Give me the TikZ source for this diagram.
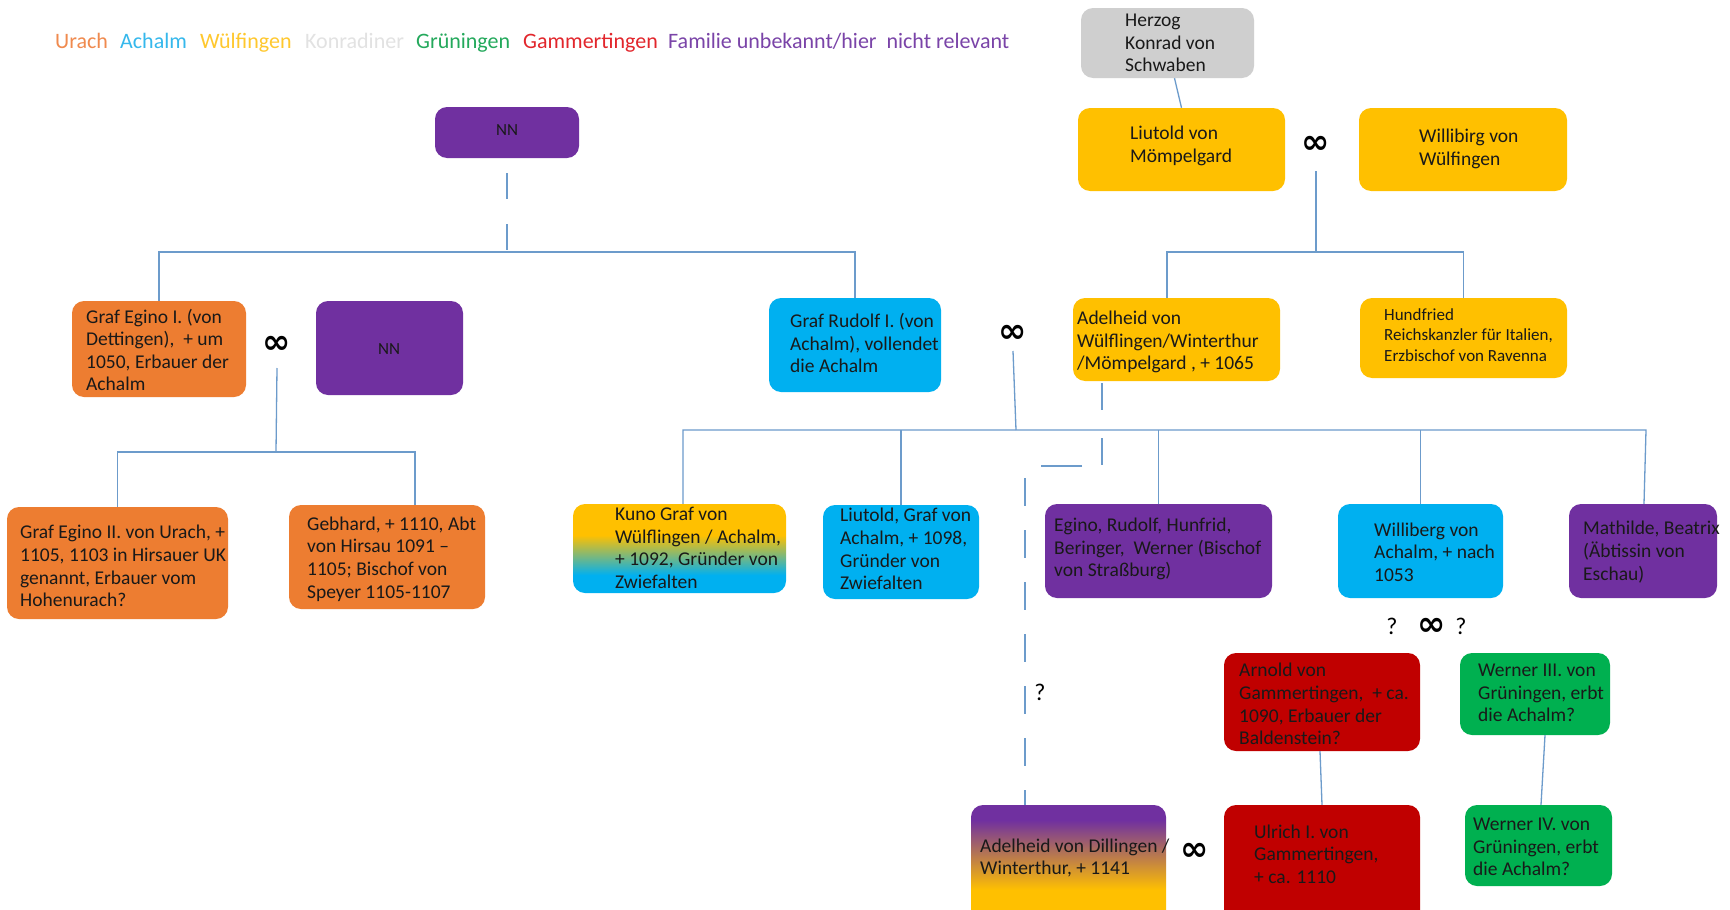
\documentclass[tikz,border=0pt]{standalone}
\usepackage{fontspec}
\setmainfont{Carlito}
\newfontfamily\djv{DejaVu Sans}
\usetikzlibrary{calc}
\definecolor{cUra}{HTML}{ED7D31}
\definecolor{cAch}{HTML}{00B0F0}
\definecolor{cWue}{HTML}{FFC000}
\definecolor{cKon}{HTML}{CFCFCF}
\definecolor{cGru}{HTML}{00B050}
\definecolor{cGam}{HTML}{C00000}
\definecolor{cPur}{HTML}{7030A0}
\definecolor{lUra}{HTML}{F08A4E}
\definecolor{lAch}{HTML}{35B8EC}
\definecolor{lWue}{HTML}{FFC82E}
\definecolor{lKon}{HTML}{E2E2E2}
\definecolor{lGru}{HTML}{24A95C}
\definecolor{lGam}{HTML}{E2262C}
\definecolor{lPur}{HTML}{7A44A8}
\definecolor{lineblue}{HTML}{6C9BCB}
\pgfdeclareverticalshading{kunosh}{100bp}{color(0bp)=(cAch); color(35bp)=(cAch); color(57.5bp)=(cWue); color(100bp)=(cWue)}
\pgfdeclareverticalshading{adelsh}{100bp}{color(0bp)=(cWue); color(41bp)=(cWue); color(69bp)=(cPur); color(100bp)=(cPur)}
\newcommand\famfont{\fontsize{19.5}{22.6}\selectfont}
\newcommand\famnode[9]{%
  \node[famb,#6,minimum width={(#4-#2)*1pt},minimum height={(#5-#3)*1pt}] (#1) at ({(#2+#4)/2},{(#3+#5)/2}) {};
  \node[famt] (#1-t) at ({#2+#7},#8) {#9};}
\tikzset{
  famb/.style={rectangle, rounded corners=12pt, inner sep=0pt, draw=none},
  famt/.style={anchor=west, align=left, inner sep=0pt, font=\famfont, text=black!90},
  conn/.style={draw=lineblue, line width=1.3pt},
  legend/.style={anchor=base west, inner sep=0pt, font=\fontsize{22}{26}\selectfont},
  marr/.style={inner sep=0pt, font=\djv\bfseries\fontsize{34}{34}\selectfont},
  qm/.style={inner sep=0pt, font=\fontsize{24}{26}\selectfont}
}
\begin{document}
\begin{tikzpicture}[x=1pt,y=-1pt]
\useasboundingbox (0,0) rectangle (1730,910);
\clip (0,0) rectangle (1730,910);
\fill[white] (0,0) rectangle (1730,910);
% legend
\node[legend,text=lUra] (lg1) at (55,48) {Urach};
\node[legend,text=lAch] (lg2) at (120,48) {Achalm};
\node[legend,text=lWue] (lg3) at (200,48) {Wülfingen};
\node[legend,text=lKon] (lg4) at (305,48) {Konradiner};
\node[legend,text=lGru] (lg5) at (416,48) {Grüningen};
\node[legend,text=lGam] (lg6) at (523,48) {Gammertingen};
\node[legend,text=lPur] (lg7) at (668,48) {Familie unbekannt/hier\ \ nicht relevant};
% boxes
\famnode{herzog}{1081}{8}{1254}{78}{fill=cKon}{44}{43}{Herzog\\Konrad von\\Schwaben}
\famnode{liutold}{1078}{108}{1285}{191}{fill=cWue}{52}{146}{Liutold von\\Mömpelgard}
\famnode{willibirg}{1359}{108}{1567}{191}{fill=cWue}{60}{149}{Willibirg von\\Wülfingen}
\renewcommand\famfont{\fontsize{17}{20.8}\selectfont}
\famnode{nna}{435}{107}{579}{158}{fill=cPur}{61}{130}{NN}
\famnode{nnb}{316}{301}{463}{395}{fill=cPur}{62}{349}{NN}
\famnode{hundfried}{1360}{298}{1567}{378}{fill=cWue}{24}{335}{Hundfried\\Reichskanzler für Italien,\\Erzbischof von Ravenna}
\renewcommand\famfont{\fontsize{19.5}{22.6}\selectfont}
\famnode{eginoa}{72}{301}{246}{397}{fill=cUra}{14}{350}{Graf Egino I. (von\\Dettingen),\ \ + um\\1050, Erbauer der\\Achalm}
\famnode{rudolf}{769}{298}{941}{392}{fill=cAch}{21}{343}{Graf Rudolf I. (von\\Achalm), vollendet\\die Achalm}
\famnode{adelheid}{1073}{298}{1280}{381}{fill=cWue}{4}{342}{Adelheid von\\Wülflingen/Winterthur\\/Mömpelgard , + 1065}
\famnode{eginob}{7}{507}{228}{619}{fill=cUra}{13}{566}{Graf Egino II. von Urach, +\\1105, 1103 in Hirsauer UK\\genannt, Erbauer vom\\Hohenurach?}
\famnode{gebhard}{289}{505}{485}{609}{fill=cUra}{18}{559}{Gebhard, + 1110, Abt\\von Hirsau 1091 –\\1105; Bischof von\\Speyer 1105-1107}
\famnode{kuno}{573}{504}{786}{593}{shade,shading=kunosh}{42}{548}{Kuno Graf von\\Wülflingen / Achalm,\\+ 1092, Gründer von\\Zwiefalten}
\famnode{liutoldb}{823}{505}{979}{599}{fill=cAch}{17}{549}{Liutold, Graf von\\Achalm, + 1098,\\Gründer von\\Zwiefalten}
\famnode{eginoc}{1045}{504}{1272}{598}{fill=cPur}{9}{549}{Egino, Rudolf, Hunfrid,\\Beringer,\ \ Werner (Bischof\\von Straßburg)}
\famnode{williberg}{1338}{504}{1503}{598}{fill=cAch}{36}{552}{Williberg von\\Achalm, + nach\\1053}
\famnode{mathilde}{1569}{504}{1717}{598}{fill=cPur}{14}{552}{Mathilde, Beatrix\\(Äbtissin von\\Eschau)}
\famnode{arnold}{1224}{653}{1420}{751}{fill=cGam}{15}{704}{Arnold von\\Gammertingen,\ \ + ca.\\1090, Erbauer der\\Baldenstein?}
\famnode{wernera}{1460}{653}{1610}{735}{fill=cGru}{18}{693}{Werner III. von\\Grüningen, erbt\\die Achalm?}
\famnode{adelheidb}{971}{805}{1166}{930}{shade,shading=adelsh}{9}{858}{Adelheid von Dillingen /\\Winterthur, + 1141}
\famnode{ulrich}{1224}{805}{1420}{930}{fill=cGam}{30}{854}{Ulrich I. von\\Gammertingen,\\+ ca. 1110}
\famnode{wernerb}{1465}{805}{1612}{886}{fill=cGru}{8}{847}{Werner IV. von\\Grüningen, erbt\\die Achalm?}
% marriage signs
\node[marr] (infa) at (277,345) {∞};
\node[marr] (infb) at (1316,145) {∞};
\node[marr] (infc) at (1013,334) {∞};
\node[marr] (infd) at (1195,852) {∞};
\node[marr] (infe) at (1432,627) {∞};
\node[qm] (qa) at (1392,626) {?};
\node[qm] (qb) at (1461,626) {?};
\node[qm] (qc) at (1040,692) {?};
% junction coordinates
\coordinate (ja) at (507,252);
\coordinate (jb) at (276,452);
\coordinate (jc) at (1316,252);
\coordinate (jd) at (1016,430);
\coordinate (jr) at (1646,430);
\coordinate (ka) at (1102,465);
\coordinate (kb) at (1082,466);
\coordinate (kc) at (1041,466);
\coordinate (kd) at (1025,478);
% connectors
\draw[conn, dash pattern=on 26pt off 25pt] ([yshift=-15pt]nna.south) -- (ja);
\draw[conn] (eginoa.north) |- (ja) -| (rudolf.north);
\draw[conn] ([yshift=-23pt]infa.center) -- (jb);
\draw[conn] (eginob.north) |- (jb) -| ([xshift=28pt]gebhard.north);
\draw[conn] ([xshift=7pt]herzog.south) -- (liutold.north);
\draw[conn] ([yshift=-26pt]infb.center) -- (jc);
\draw[conn] ([xshift=-9.5pt]adelheid.north) |- (jc) -| (hundfried.north);
\draw[conn] ([yshift=-17pt]infc.center) -- (jd);
\draw[conn] ([xshift=3.5pt]kuno.north) |- (jd) -- (jr) -- ([xshift=1pt]mathilde.north);
\draw[conn] (liutoldb.north) -- (liutoldb.north |- jd);
\draw[conn] (eginoc.north) -- (eginoc.north |- jd);
\draw[conn] (williberg.north) -- (williberg.north |- jd);
\draw[conn, dash pattern=on 27pt off 28pt] ([xshift=-74.5pt,yshift=-2pt]adelheid.south) -- (ka);
\draw[conn] (kb) -- (kc);
\draw[conn, dash pattern=on 28pt off 24pt] (kd) -- ([xshift=-43.5pt]adelheidb.north);
\draw[conn] ([xshift=-2pt]arnold.south) -- (ulrich.north);
\draw[conn] ([xshift=10pt]wernera.south) -- ([xshift=2.5pt]wernerb.north);
\end{tikzpicture}
\end{document}
